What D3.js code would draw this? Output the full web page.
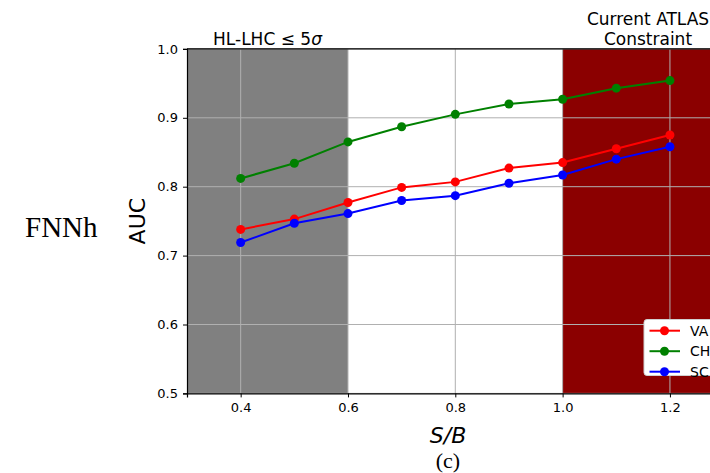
<!DOCTYPE html>
<html><head><meta charset="utf-8">
<script src="https://cdn.jsdelivr.net/npm/d3@7"></script>
<style>body{margin:0;background:#fff;} svg{display:block;}</style>
</head><body>
<svg id="c" width="710" height="473"></svg>
<script>
const sbValues = [0.4, 0.5, 0.6, 0.7, 0.8, 0.9, 1.0, 1.1, 1.2];
const seriesNames = ["VA", "CH", "SC"];
const vanilla = [0.738, 0.753, 0.777, 0.799, 0.807, 0.827, 0.835, 0.855, 0.875];
const channel = [0.812, 0.834, 0.865, 0.887, 0.905, 0.920, 0.927, 0.943, 0.954];
const scaled  = [0.719, 0.747, 0.761, 0.780, 0.787, 0.805, 0.817, 0.840, 0.858];
const xTicks = [0.4, 0.6, 0.8, 1.0, 1.2];
const yTicks = [0.5, 0.6, 0.7, 0.8, 0.9, 1.0];
const colors = ["#ff0000", "#008000", "#0000ff"];

const svg = d3.select("#c");
const x = d3.scaleLinear().domain([0.3, 1.3]).range([187, 723.6]);
const y = d3.scaleLinear().domain([0.5, 1.0]).range([393.4, 48.9]);

// shaded regions
svg.append("rect").attr("x", x(0.3)).attr("y", y(1.0)).attr("width", x(0.6) - x(0.3))
  .attr("height", y(0.5) - y(1.0)).attr("fill", "#808080");
svg.append("rect").attr("x", x(1.0)).attr("y", y(1.0)).attr("width", x(1.3) - x(1.0))
  .attr("height", y(0.5) - y(1.0)).attr("fill", "#8b0000");

// grid
const grid = svg.append("g");
grid.selectAll("line.gx").data(xTicks).join("line")
  .attr("x1", d => x(d)).attr("x2", d => x(d)).attr("y1", y(0.5)).attr("y2", y(1.0))
  .attr("stroke", "#b0b0b0").attr("stroke-width", 1);
grid.selectAll("line.gy").data(yTicks).join("line")
  .attr("x1", x(0.3)).attr("x2", x(1.3)).attr("y1", d => y(d)).attr("y2", d => y(d))
  .attr("stroke", "#b0b0b0").attr("stroke-width", 1);

// axes
const xAxis = d3.axisBottom(x).tickValues(xTicks).tickFormat(d3.format(".1f")).tickSizeOuter(0).tickSize(4).tickPadding(5);
const yAxis = d3.axisLeft(y).tickValues(yTicks).tickFormat(d3.format(".1f")).tickSizeOuter(0).tickSize(4).tickPadding(5);
const gx = svg.append("g").attr("transform", `translate(0,${y(0.5)})`).call(xAxis);
const gy = svg.append("g").attr("transform", `translate(${x(0.3)},0)`).call(yAxis);
[gx, gy].forEach(g => {
  g.selectAll("text").attr("font-family", "DejaVu Sans").attr("font-size", 13).attr("fill", "#000");
  g.selectAll("line").attr("stroke", "#000").attr("stroke-width", 1);
  g.select(".domain").attr("stroke", "#000").attr("stroke-width", 1.2);
});
// top spine
svg.append("line").attr("x1", x(0.3)).attr("x2", x(1.3)).attr("y1", y(1.0)).attr("y2", y(1.0))
  .attr("stroke", "#000").attr("stroke-width", 1.2);

// series
const allSeries = [vanilla, channel, scaled];
const line = d3.line().x((d, i) => x(sbValues[i])).y(d => y(d));
allSeries.forEach((vals, k) => {
  const g = svg.append("g");
  g.append("path").datum(vals).attr("d", line).attr("fill", "none")
    .attr("stroke", colors[k]).attr("stroke-width", 2);
  g.selectAll("circle").data(vals).join("circle")
    .attr("cx", (d, i) => x(sbValues[i])).attr("cy", d => y(d)).attr("r", 4.5).attr("fill", colors[k]);
});

// region labels
svg.append("text").attr("x", x(0.45)).attr("y", 45).attr("text-anchor", "middle")
  .attr("font-family", "DejaVu Sans").attr("font-size", 17)
  .text("HL-LHC  ≤ 5").append("tspan").attr("font-style", "italic").text("σ");
const atl = svg.append("text").attr("x", 648).attr("text-anchor", "middle")
  .attr("font-family", "DejaVu Sans").attr("font-size", 17);
atl.append("tspan").attr("x", 648).attr("y", 25).text("Current ATLAS");
atl.append("tspan").attr("x", 648).attr("y", 44.5).text("Constraint");

// legend
const lg = svg.append("g");
lg.append("rect").attr("x", 644).attr("y", 319.5).attr("width", 100).attr("height", 56)
  .attr("rx", 3).attr("fill", "#fff").attr("stroke", "#d0d0d0");
seriesNames.forEach((name, k) => {
  const yy = 330.7 + k * 20.5;
  lg.append("line").attr("x1", 649.5).attr("x2", 680).attr("y1", yy).attr("y2", yy)
    .attr("stroke", colors[k]).attr("stroke-width", 2);
  lg.append("circle").attr("cx", 664.5).attr("cy", yy).attr("r", 4.5).attr("fill", colors[k]);
  lg.append("text").attr("x", 690).attr("y", yy).attr("dy", "0.36em")
    .attr("font-family", "DejaVu Sans").attr("font-size", 14).text(name);
});

// axis labels
svg.append("text").attr("transform", `translate(145,${(y(0.5) + y(1.0)) / 2}) rotate(-90)`)
  .attr("text-anchor", "middle").attr("font-family", "DejaVu Sans").attr("font-size", 22).text("AUC");
svg.append("text").attr("x", 448).attr("y", 443).attr("text-anchor", "middle")
  .attr("font-family", "DejaVu Sans").attr("font-style", "italic").attr("font-size", 22).text("S/B");
svg.append("text").attr("x", 448).attr("y", 468).attr("text-anchor", "middle")
  .attr("font-family", "Liberation Serif").attr("font-size", 22).text("(c)");
svg.append("text").attr("x", 25).attr("y", 236.7)
  .attr("font-family", "Liberation Serif").attr("font-size", 29).text("FNNh");
</script>
</body></html>
